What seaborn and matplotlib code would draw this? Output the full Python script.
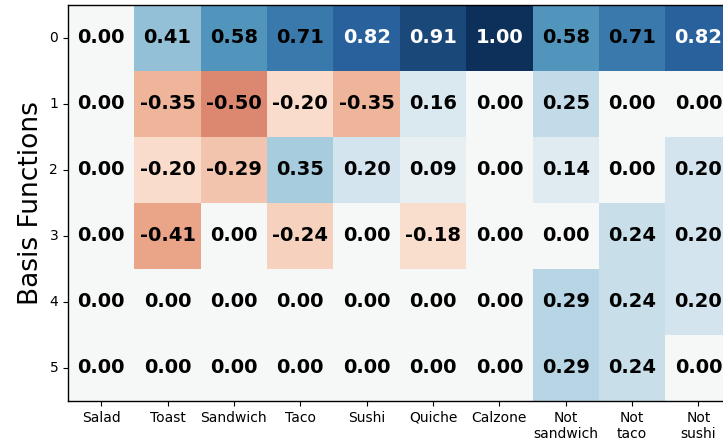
import numpy as np
import pandas as pd
import matplotlib
matplotlib.use("Agg")
import matplotlib.pyplot as plt
from matplotlib.colors import ListedColormap
import seaborn as sns

foods = ["Salad", "Toast", "Sandwich", "Taco", "Sushi", "Quiche", "Calzone",
         "Not\nsandwich", "Not\ntaco", "Not\nsushi"]
basis = [0, 1, 2, 3, 4, 5]

row0 = [0.00, 0.41, 0.58, 0.71, 0.82, 0.91, 1.00, 0.58, 0.71, 0.82]
row1 = [0.00, -0.35, -0.50, -0.20, -0.35, 0.16, 0.00, 0.25, 0.00, 0.00]
row2 = [0.00, -0.20, -0.29, 0.35, 0.20, 0.09, 0.00, 0.14, 0.00, 0.20]
row3 = [0.00, -0.41, 0.00, -0.24, 0.00, -0.18, 0.00, 0.00, 0.24, 0.20]
row4 = [0.00, 0.00, 0.00, 0.00, 0.00, 0.00, 0.00, 0.29, 0.24, 0.20]
row5 = [0.00, 0.00, 0.00, 0.00, 0.00, 0.00, 0.00, 0.29, 0.24, 0.00]

df = pd.DataFrame([row0, row1, row2, row3, row4, row5], index=basis, columns=foods)

# RdBu, a bit muted like the original
base = plt.get_cmap("RdBu")(np.linspace(0, 1, 256))
cmap = ListedColormap([sns.desaturate(c[:3], 0.85) for c in base])

fig = plt.figure(figsize=(7.23, 4.44), dpi=100)
# the original picture is cropped on the right, so the axes run past the edge
ax = fig.add_axes([0.094, 0.097, 0.918, 0.892])

sns.heatmap(df, ax=ax, cmap=cmap, vmin=-1, vmax=1, cbar=False,
            annot=True, fmt=".2f",
            annot_kws={"fontsize": 14, "fontweight": "bold"})

# white text only on the darkest cells
for txt in ax.texts:
    val = float(txt.get_text())
    txt.set_color("white" if val > 0.75 else "black")

for s in ax.spines.values():
    s.set_visible(True)
    s.set_linewidth(1.0)

ax.tick_params(axis="both", length=3.5, width=0.8, labelsize=10)
ax.set_xticklabels(foods, rotation=0)
ax.set_yticklabels(basis, rotation=0)
ax.set_xlabel("")
ax.set_ylabel("Basis Functions", fontsize=19)

fig.savefig("out.png", dpi=100)
plt.close(fig)
